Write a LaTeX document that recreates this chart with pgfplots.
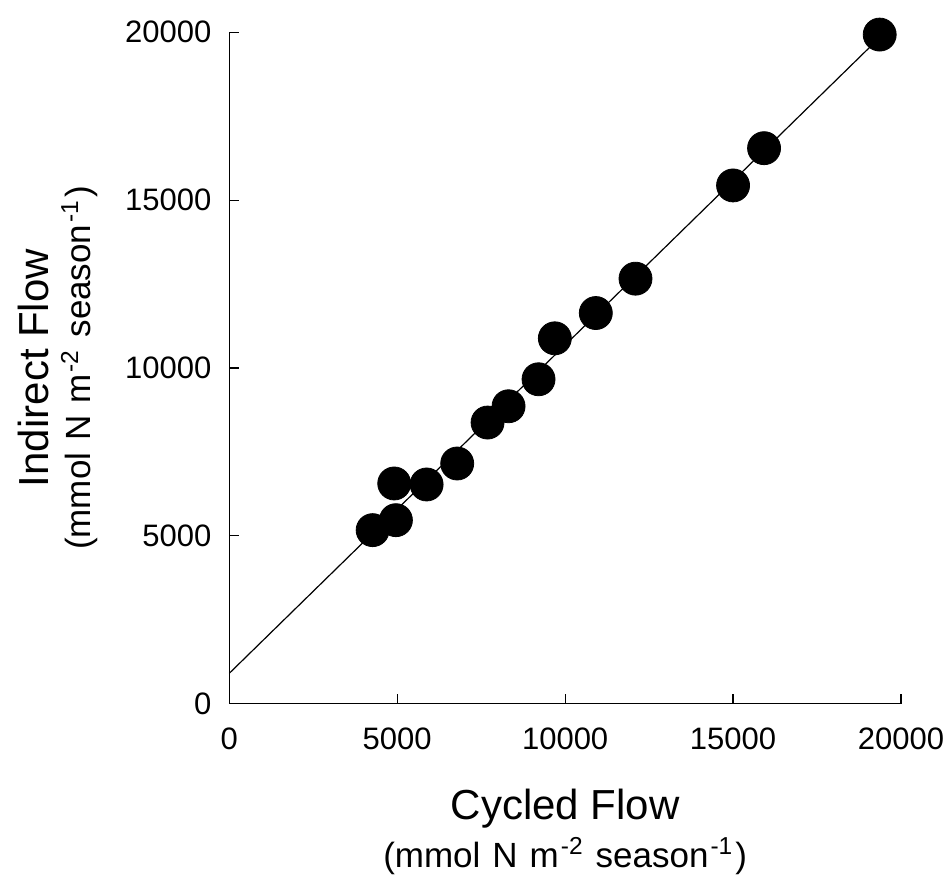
\documentclass[border=0pt]{standalone}
\usepackage{pgfplots}
\pgfplotsset{compat=1.18}
\usepackage{fontspec}
\setmainfont{Liberation Sans}
\newcommand{\unitline}{\fontsize{17.5}{20}\selectfont (mmol\hspace{6pt}N\hspace{6pt}m\hspace{1pt}\textsuperscript{-2}\hspace{6pt}season\hspace{1pt}\textsuperscript{-1}\hspace{1pt})}
\begin{document}
\begin{tikzpicture}
\useasboundingbox (-114.65pt,-87.15pt) rectangle (360.35pt,351.85pt);
\begin{axis}[
  at={(0,0)}, anchor=south west,
  width=335.85pt, height=335.7pt, scale only axis,
  xmin=0, xmax=20000, ymin=0, ymax=20000,
  axis x line=bottom, axis y line=left,
  axis line style={-, line width=0.6pt, black},
  xtick={0,5000,10000,15000,20000},
  ytick={0,5000,10000,15000,20000},
  tick align=inside, major tick length=5pt,
  tick style={line width=0.6pt, black},
  scaled ticks=false,
  /pgf/number format/set thousands separator={},
  /pgf/number format/assume math mode=true,
  ticklabel style={font=\fontsize{15.5}{18}\selectfont},
  xticklabel style={inner sep=0pt, yshift=-12pt},
  yticklabel style={inner sep=0pt, xshift=-8.8pt},
  clip=false,
  xlabel={\fontsize{21}{24.5}\selectfont Cycled Flow\\[4pt]\unitline},
  xlabel style={at={([yshift=-42.3pt]axis description cs:0.5,0)}, anchor=north, align=center, inner sep=0pt},
  ylabel={\fontsize{21}{24.5}\selectfont Indirect Flow\\[5pt]\unitline},
  ylabel style={at={([xshift=-65.5pt]axis description cs:0,0.5)}, rotate=0, anchor=south, align=center, inner sep=0pt},
]
\addplot[black, line width=0.6pt] coordinates {(0,905) (19366,19845)};
\addplot[only marks, mark=*, mark size=8.25pt, mark options={fill=black, draw=black}] coordinates {
(4268,5170) (4961,5467) (4911,6560) (5875,6530) (6786,7155) (7690,8375)
(8315,8860) (9208,9664) (9693,10884) (10913,11637) (12095,12661)
(15000,15438) (15923,16548) (19366,19932)
};
\end{axis}
\end{tikzpicture}
\end{document}
